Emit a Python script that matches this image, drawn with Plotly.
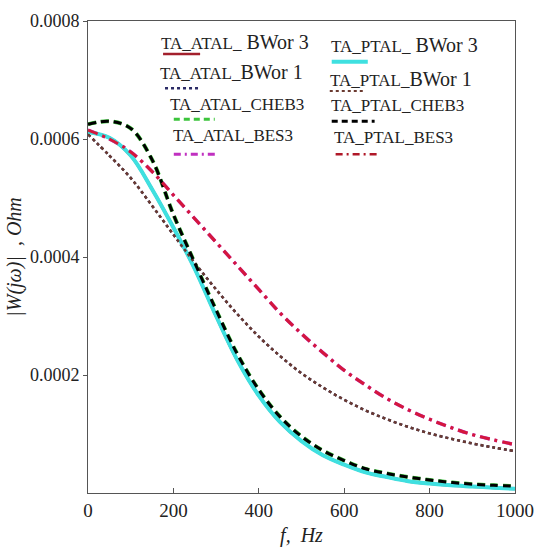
import plotly.graph_objects as go

# ---------------- data ----------------
freq = [0, 50, 100, 150, 200, 250, 300, 350, 400, 450, 500,
        550, 600, 650, 700, 750, 800, 850, 900, 950, 1000]

ptal_bwor3 = [0.000612, 0.000602, 0.000572, 0.000515, 0.000450, 0.000380, 0.000300,
              0.000225, 0.000165, 0.000120, 0.000088, 0.000064, 0.000048, 0.000035,
              0.000027, 0.000020, 0.000016, 0.000013, 0.000011, 0.000009, 0.000007]
atal_bwor3 = list(ptal_bwor3)

ptal_cheb3 = [0.000625, 0.000630, 0.000618, 0.000565, 0.000472, 0.000390, 0.000310,
              0.000235, 0.000175, 0.000129, 0.000096, 0.000072, 0.000055, 0.000041,
              0.000033, 0.000027, 0.000022, 0.000018, 0.000015, 0.000013, 0.0000115]
atal_cheb3 = list(ptal_cheb3)

ptal_bes3 = [0.000615, 0.000600, 0.000578, 0.000545, 0.000505, 0.000465, 0.000425,
             0.000385, 0.000345, 0.000305, 0.000270, 0.000238, 0.000208, 0.000183,
             0.000160, 0.000141, 0.000125, 0.000111, 0.000099, 0.000090, 0.000082]
atal_bes3 = list(ptal_bes3)

ptal_bwor1 = [0.000608, 0.000572, 0.000534, 0.000487, 0.000438, 0.000390, 0.000345,
              0.000303, 0.000265, 0.000232, 0.000203, 0.000179, 0.000158, 0.000140,
              0.000125, 0.000112, 0.000101, 0.000092, 0.000084, 0.000077, 0.000071]
atal_bwor1 = list(ptal_bwor1)

x_ticks = [0, 200, 400, 600, 800, 1000]
y_ticks = [0.0002, 0.0004, 0.0006, 0.0008]
y_tick_labels = ["0.0002", "0.0004", "0.0006", "0.0008"]

series = [
    # name, values, color, width, dash
    ("TA_ATAL_ BWor 3", atal_bwor3, "#a3202c", 3, "solid"),
    ("TA_ATAL_BWor 1", atal_bwor1, "#2b2b66", 2.5, "dot"),
    ("TA_ATAL_CHEB3", atal_cheb3, "#3cc43c", 4, "8px,5px"),
    ("TA_ATAL_BES3", atal_bes3, "#c030c0", 3.5, "10px,5px,3px,5px"),
    ("TA_PTAL_ BWor 3", ptal_bwor3, "#3fe0e0", 4, "solid"),
    ("TA_PTAL_BWor 1", ptal_bwor1, "#6b3a30", 2.5, "dot"),
    ("TA_PTAL_CHEB3", ptal_cheb3, "#000000", 3, "8px,5px"),
    ("TA_PTAL_BES3", ptal_bes3, "#d4183c", 3, "10px,5px,3px,5px"),
]

fig = go.Figure()
for name, vals, color, width, dash in series:
    fig.add_trace(go.Scatter(x=freq, y=vals, mode="lines", name=name,
                             line=dict(color=color, width=width, dash=dash, shape="spline"),
                             showlegend=False))

# ---------------- layout ----------------
W, H = 545, 554
L, R, T, B = 88, 19, 11, 58
PW, PH = W - L - R, H - T - B

def px(x):
    return (x - L) / PW

def py(y):
    return (H - B - y) / PH

SERIF = "Liberation Serif, serif"

# legend (text above a line sample), two columns
legend_items = [
    ("TA_ATAL_", " BWor 3", 163, 33, 165, 203, 45, "#a3202c", 2.5, "solid"),
    ("TA_ATAL_", "BWor 1", 162, 63, 167, 201, 80, "#2b2b66", 2.5, "dot"),
    ("TA_ATAL_CHEB3", "", 172, 97, 176, 218, 112, "#3cc43c", 3, "6px,4px"),
    ("TA_ATAL_BES3", "", 175, 129, 176, 220, 148, "#c030c0", 3, "7px,4px,2px,4px"),
    ("TA_PTAL_", " BWor 3", 337, 36, 338, 375, 53, "#3fe0e0", 4, "solid"),
    ("TA_PTAL_", "BWor 1", 336, 71, 336, 372, 83, "#6b3a30", 2, "dot"),
    ("TA_PTAL_CHEB3", "", 337, 98, 338, 382, 114, "#000000", 3, "6px,4px"),
    ("TA_PTAL_BES3", "", 340, 131, 342, 387, 148, "#b01828", 2.5, "7px,4px,2px,4px"),
]

annotations = []
shapes = []
for t1, t2, tx, ty, lx0, lx1, ly, color, width, dash in legend_items:
    if t2:
        txt = t1 + '<span style="font-size:20px">' + t2 + '</span>'
    else:
        txt = t1
    annotations.append(dict(x=px(tx), y=py(ty), xref="paper", yref="paper",
                            text=txt, showarrow=False, xanchor="left", yanchor="middle",
                            xshift=-2,
                            font=dict(family=SERIF, size=17, color="#222222")))
    shapes.append(dict(type="line", xref="paper", yref="paper",
                       x0=px(lx0), x1=px(lx1), y0=py(ly), y1=py(ly),
                       line=dict(color=color, width=width, dash=dash)))

fig.update_layout(
    width=W, height=H,
    margin=dict(l=L, r=R, t=T, b=B),
    paper_bgcolor="white", plot_bgcolor="white",
    font=dict(family=SERIF, size=18, color="#222222"),
    annotations=annotations,
    shapes=shapes,
    showlegend=False,
)
fig.update_xaxes(range=[0, 1000], tickvals=x_ticks, ticktext=[str(v) for v in x_ticks],
                 showgrid=False, zeroline=False, showline=True, linecolor="#555555",
                 linewidth=1, mirror=True, ticks="inside", ticklen=5, tickcolor="#555555",
                 tickfont=dict(family=SERIF, size=19),
                 title=dict(text="<i>f,  Hz</i>", font=dict(family=SERIF, size=20), standoff=8))
fig.update_yaxes(range=[0, 0.0008], tickvals=y_ticks, ticktext=y_tick_labels,
                 showgrid=False, zeroline=False, showline=True, linecolor="#555555",
                 linewidth=1, mirror=True, ticks="outside", ticklen=4, tickcolor="#555555",
                 tickfont=dict(family=SERIF, size=18),
                 title=dict(text="<i>|W(jω)|  , Ohm</i>", font=dict(family=SERIF, size=20), standoff=2))

fig.write_html("out.html")
